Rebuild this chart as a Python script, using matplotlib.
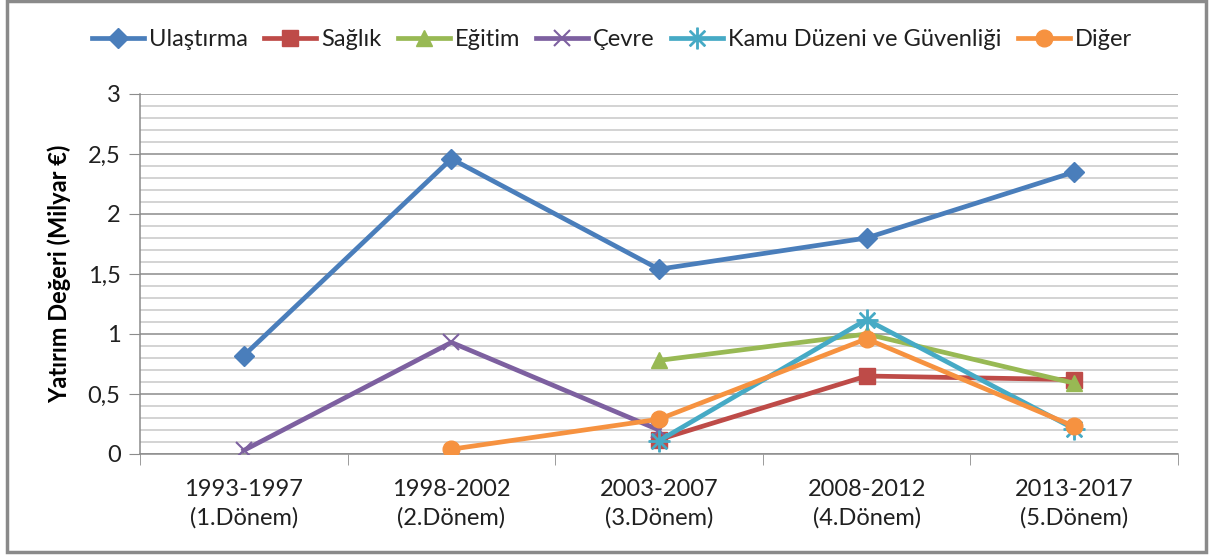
import matplotlib
matplotlib.use("Agg")
import matplotlib.pyplot as plt
import numpy as np
from matplotlib.ticker import MultipleLocator

plt.rcParams['font.family'] = ['Lato', 'DejaVu Sans']

categories = ["1993-1997\n(1.Dönem)", "1998-2002\n(2.Dönem)", "2003-2007\n(3.Dönem)",
              "2008-2012\n(4.Dönem)", "2013-2017\n(5.Dönem)"]
ulastirma = [0.82, 2.46, 1.54, 1.80, 2.35]
saglik = [None, None, 0.12, 0.65, 0.62]
egitim = [None, None, 0.78, 1.00, 0.59]
cevre = [0.03, 0.93, 0.20, None, None]
kamu = [None, None, 0.11, 1.12, 0.21]
diger = [None, 0.04, 0.29, 0.96, 0.23]

series = [
    ("Ulaştırma", ulastirma, "#4A7EBB", "D", 10),
    ("Sağlık", saglik, "#BE4B48", "s", 11),
    ("Eğitim", egitim, "#98B954", "^", 12),
    ("Çevre", cevre, "#7D60A0", "x", 12),
    ("Kamu Düzeni ve Güvenliği", kamu, "#46AAC5", "$\u2733$", 15),
    ("Diğer", diger, "#F69240", "o", 12),
]

fig = plt.figure(figsize=(12.12, 5.57), dpi=100)
ax = fig.add_axes([140/1212, 1-454/557, (1178-140)/1212, (454-94)/557])

x = np.arange(len(categories))
handles = []
for name, vals, col, mk, ms in series:
    v = np.array([np.nan if a is None else a for a in vals], dtype=float)
    mask = ~np.isnan(v)
    mew = 1.5 if mk == "x" else 1
    h, = ax.plot(x[mask], v[mask], color=col, lw=3.4, marker=mk, markersize=ms,
                 markeredgecolor=col, markerfacecolor=col, markeredgewidth=mew,
                 label=name, zorder=3)
    handles.append(h)

ax.set_xlim(-0.5, 4.5)
ax.set_ylim(0, 3)
ax.yaxis.set_major_locator(MultipleLocator(0.5))
ax.yaxis.set_minor_locator(MultipleLocator(0.1))
ax.grid(which='major', axis='y', color='#8c8c8c', lw=1.1, zorder=0)
ax.grid(which='minor', axis='y', color='#c8c8c8', lw=1.1, zorder=0)
ax.set_axisbelow(True)
ax.set_yticks([0, 0.5, 1, 1.5, 2, 2.5, 3])
ax.set_yticklabels(["0", "0,5", "1", "1,5", "2", "2,5", "3"], fontsize=17, color='#202020')
ax.set_xticks(x)
ax.set_xticklabels(categories, fontsize=17, linespacing=1.4, color='#202020')
ax.set_xticks(np.arange(-0.5, 5, 1), minor=True)
ax.tick_params(axis='x', which='major', length=0, pad=18)
ax.tick_params(axis='x', which='minor', length=8, color='#8c8c8c', direction='out')
ax.tick_params(axis='y', which='major', length=8, color='#8c8c8c', direction='out', pad=6)
ax.tick_params(axis='y', which='minor', length=0)
for s in ['top', 'right']:
    ax.spines[s].set_visible(False)
for s in ['left', 'bottom']:
    ax.spines[s].set_color('#8c8c8c')
    ax.spines[s].set_linewidth(1.1)

ax.set_ylabel("Yatırım Değeri (Milyar €)", fontsize=17, fontweight='bold', labelpad=12)

leg = fig.legend(handles=handles, loc='center', bbox_to_anchor=(612/1212, 1-40/557), ncol=6,
                 frameon=False, fontsize=17, handlelength=2.2, handletextpad=0.2,
                 columnspacing=0.7, borderaxespad=0)
for t in leg.get_texts():
    t.set_color('#202020')

frame = plt.Rectangle((7/1212, 1-552/557), (1206-7)/1212, (552-1)/557, transform=fig.transFigure,
                      fill=False, edgecolor='#8a8a8a', lw=2.5)
fig.patches.append(frame)

fig.savefig("out.png", dpi=100)
